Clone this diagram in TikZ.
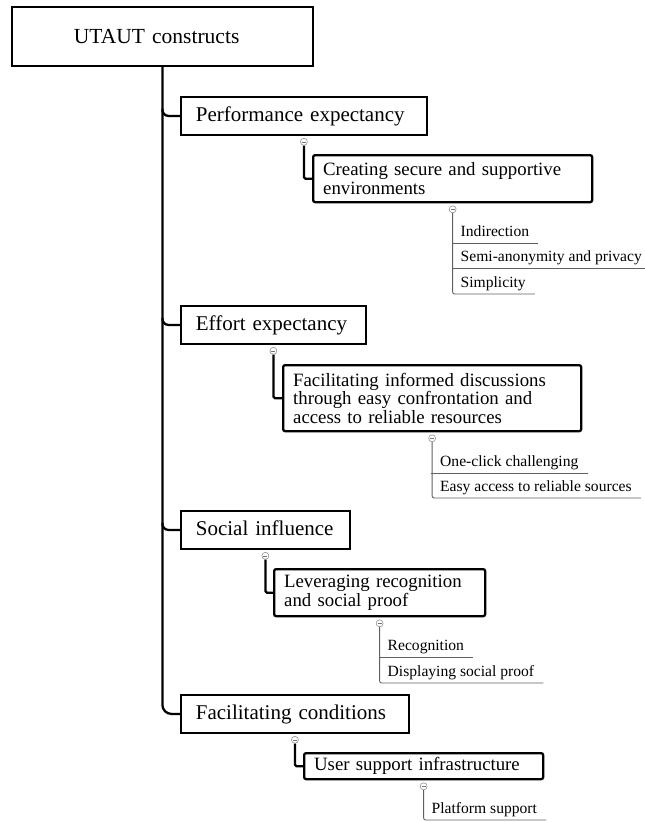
\documentclass[tikz,border=0pt]{standalone}
\usepackage{fontspec}
\setmainfont{Liberation Serif}
\begin{document}
\begin{tikzpicture}[x=1pt,y=-1pt,
  rootbox/.style={draw, line width=1.8pt, anchor=north west, inner ysep=0pt, inner xsep=62pt,
    text width=177pt, align=left, minimum height=59pt, font=\fontsize{21.5}{24}\selectfont,
    text height=14.5pt, text depth=0.5pt},
  lonebox/.style={draw, line width=1.8pt, anchor=north west, inner ysep=0pt, inner xsep=15pt,
    align=left, minimum height=38pt, font=\fontsize{21}{22}\selectfont, text height=14pt, text depth=2pt},
  ltwobox/.style={draw, line width=2.3pt, rounded corners=2pt, anchor=north west, inner ysep=0pt,
    inner xsep=10pt, align=left, font=\fontsize{18.8}{18.5}\selectfont},
  leaf/.style={anchor=south west, inner xsep=9pt, inner ysep=2pt, text height=11pt, text depth=4pt,
    font=\fontsize{15.6}{17}\selectfont},
  tog/.style={circle, draw=gray!85, fill=white, line width=0.6pt, minimum size=7pt, inner sep=0pt,
    path picture={\draw[gray!90!black, line width=0.6pt]
      ([xshift=-2pt]path picture bounding box.center) -- ([xshift=2pt]path picture bounding box.center);}},
  trunk/.style={line width=2.3pt, draw=black},
  conn/.style={line width=2.3pt, draw=black, rounded corners=1.5pt},
  leafl/.style={line width=0.9pt, draw=gray!75!black, rounded corners=2pt}
]
\useasboundingbox (0,0) rectangle (645,822);

% root
\node[rootbox] (root) at (11,6) {\mbox{UTAUT constructs}};

% level 1
\node[lonebox, text width=216pt] (perf) at (180,96) {\mbox{Performance expectancy}};
\node[lonebox, text width=155pt] (eff) at (180,305) {\mbox{Effort expectancy}};
\node[lonebox, text width=139pt] (soc) at (180,510) {\mbox{Social influence}};
\node[lonebox, text width=198pt] (fc) at (180,694) {\mbox{Facilitating conditions}};

% level 2
\node[ltwobox, text width=259pt, minimum height=47pt] (cre) at (312,154)
  {\mbox{Creating secure and supportive}\\\mbox{environments}};
\node[ltwobox, text width=278pt, minimum height=66pt] (inf) at (282,364)
  {\mbox{Facilitating informed discussions}\\\mbox{through easy confrontation and}\\\mbox{access to reliable resources}};
\node[ltwobox, text width=191pt, minimum height=47pt] (lev) at (273,568)
  {\mbox{Leveraging recognition}\\\mbox{and social proof}};
\node[ltwobox, text width=219pt, minimum height=26pt] (usr) at (303,752)
  {\mbox{User support infrastructure}};

% toggles
\node[tog] (perfT) at ([yshift=-6pt]perf.south) {};
\node[tog] (effT) at ([yshift=-6pt]eff.south) {};
\node[tog] (socT) at ([yshift=-6pt]soc.south) {};
\node[tog] (fcT) at ([yshift=-6pt]fc.south) {};
\node[tog] (creT) at ([yshift=-6pt]cre.south) {};
\node[tog] (infT) at ([yshift=-6pt]inf.south) {};
\node[tog] (levT) at ([yshift=-6pt]lev.south) {};
\node[tog] (usrT) at ([yshift=-6pt]usr.south) {};

% leaves
\node[leaf] (ind) at (451.5,243) {Indirection};
\node[leaf] (semi) at (451.5,268) {Semi-anonymity and privacy};
\node[leaf] (simp) at (451.5,294) {Simplicity};
\node[leaf] (one) at (431,473) {One-click challenging};
\node[leaf] (easy) at (431,498) {Easy access to reliable sources};
\node[leaf] (rec) at (378.5,657) {Recognition};
\node[leaf] (disp) at (378.5,683) {Displaying social proof};
\node[leaf] (plat) at (422.5,820) {Platform support};

% trunk and branches
\draw[trunk, rounded corners=9pt] (root.south) |- (fc.west);
\path (perf.west -| root.south) ++(0,-7) coordinate (perfJ);
\path (eff.west -| root.south) ++(0,-7) coordinate (effJ);
\path (soc.west -| root.south) ++(0,-7) coordinate (socJ);
\draw[trunk, rounded corners=6pt] (perfJ) |- (perf.west);
\draw[trunk, rounded corners=6pt] (effJ) |- (eff.west);
\draw[trunk, rounded corners=6pt] (socJ) |- (soc.west);

% level-2 connectors
\draw[conn] (perfT.south) |- (cre.west);
\draw[conn] (effT.south) |- (inf.west);
\draw[conn] (socT.south) |- (lev.west);
\draw[conn] (fcT.south) |- (usr.west);

% leaf connectors
\draw[leafl] (creT.south) |- (simp.south east);
\draw[leafl] (ind.south west) -- (ind.south east);
\draw[leafl] (semi.south west) -- (semi.south east);
\draw[leafl] (infT.south) |- (easy.south east);
\draw[leafl] (one.south west) -- (one.south east);
\draw[leafl] (levT.south) |- (disp.south east);
\draw[leafl] (rec.south west) -- (rec.south east);
\draw[leafl] (usrT.south) |- (plat.south east);
\end{tikzpicture}
\end{document}
